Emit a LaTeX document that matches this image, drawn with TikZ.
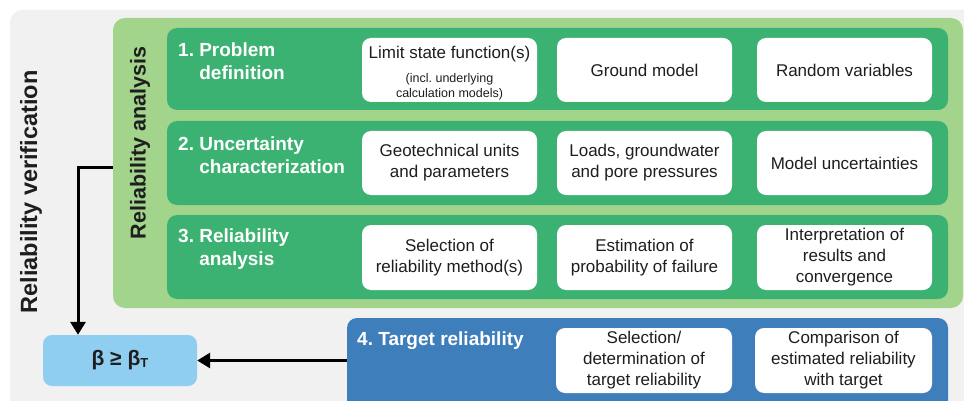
\documentclass[tikz,border=0pt]{standalone}
\usepackage{fontspec}
\setmainfont{Liberation Sans}
\usetikzlibrary{arrows.meta,calc}
\definecolor{bggrey}{HTML}{F1F1F1}
\definecolor{ragreen}{HTML}{A2D48C}
\definecolor{bandgreen}{HTML}{3CB272}
\definecolor{tgtblue}{HTML}{3E7EBB}
\definecolor{betablue}{HTML}{8FCDF1}
\definecolor{inkgrey}{HTML}{1E1E1E}
\newcommand{\smalltxt}{\fontsize{12.5}{15}\selectfont}
\frenchspacing
\begin{document}
\frenchspacing
\begin{tikzpicture}[x=1pt,y=-1pt,
  band/.style={fill=bandgreen, rounded corners=10pt, minimum width=781pt, inner sep=0pt},
  item/.style={fill=white, rounded corners=9pt, minimum width=175pt, minimum height=64pt,
    inner sep=2pt, align=center, text=inkgrey, font=\fontsize{17}{21}\selectfont},
  steplabel/.style={text=white, anchor=west, align=left, inner sep=0pt,
    font=\bfseries\fontsize{19}{23}\selectfont},
  sidelabel/.style={rotate=90, text=inkgrey, inner sep=0pt, font=\bfseries},
  arr/.style={draw=black, line width=3pt, -{Triangle[width=15pt,length=13pt]}}]
\useasboundingbox (0,0) rectangle (964,401);
\fill[white] (0,0) rectangle (964,401);
\fill[bggrey, rounded corners=12pt] (10,10) rectangle (976,414);

% outer reliability-analysis frame
\node[fill=ragreen, rounded corners=12pt, minimum width=850pt, minimum height=290pt, inner sep=0pt]
  (ra) at (538,163) {};

% the three analysis steps
\node[band, minimum height=82pt] (band1) at (557.5,69) {};
\node[band, minimum height=84pt] (band2) at (557.5,163) {};
\node[band, minimum height=84pt] (band3) at (557.5,257) {};

% target reliability step
\node[fill=tgtblue, rounded corners=10pt, minimum width=601pt, minimum height=96pt, inner sep=0pt]
  (target) at (647.5,366) {};

% step titles
\node[steplabel] (t1) at (178,61.5) {1. Problem\\\hphantom{1.~}definition};
\node[steplabel] (t2) at (178,155) {2. Uncertainty\\\hphantom{2.~}characterization};
\node[steplabel] (t3) at (178,249) {3. Reliability\\\hphantom{3.~}analysis};
\node[steplabel] (t4) at (357,341) {4. Target reliability};

% side titles
\node[sidelabel, font=\bfseries\fontsize{23.5}{27}\selectfont] (rv) at (31,192) {Reliability verification};
\node[sidelabel, font=\bfseries\fontsize{21.5}{25}\selectfont] (rat) at (140,143) {Reliability analysis};

% step contents
\node[item] (p1) at (449.5,70) {};
\node[align=center, text=inkgrey, inner sep=0pt, font=\fontsize{17}{21}\selectfont] (p1text)
  at ($(p1)+(0,3)$) {Limit state function(s)\\[3pt]\smalltxt (incl. underlying\\[-6pt]\smalltxt calculation models)};
\node[item] (p2) at (644.5,70) {Ground model};
\node[item] (p3) at (844.5,70) {Random variables};

\node[item] (u1) at (449.5,163) {Geotechnical units\\and parameters};
\node[item] (u2) at (644.5,163) {Loads, groundwater\\and pore pressures};
\node[item] (u3) at (844.5,163) {Model uncertainties};

\node[item, minimum height=65pt] (r1) at (449.5,257.5) {Selection of\\reliability method(s)};
\node[item, minimum height=65pt] (r2) at (644.5,257.5) {Estimation of\\probability of failure};
\node[item, minimum height=65pt] (r3) at (844.5,257.5) {Interpretation of\\results and\\convergence};

\node[item, minimum height=65pt, minimum width=176pt] (g1) at (644,360.5) {Selection/\\determination of\\target reliability};
\node[item, minimum height=65pt, minimum width=177pt] (g2) at (843.5,360.5) {Comparison of\\estimated reliability\\with target};

% verification criterion
\node[fill=betablue, rounded corners=9pt, minimum width=154pt, minimum height=51pt, inner sep=0pt,
  text=inkgrey, font=\bfseries\fontsize{21}{24}\selectfont]
  (beta) at (120,360.5) {β ≥ β\raisebox{-2pt}{\fontsize{13}{15}\selectfont T}};

% connectors
\coordinate (turn) at (78,168);
\draw[arr] ($(ra.west)+(0,5)$) -- (turn) -- (turn |- beta.north);
\draw[arr] (target.west |- beta.east) -- (beta.east);
\end{tikzpicture}
\end{document}
